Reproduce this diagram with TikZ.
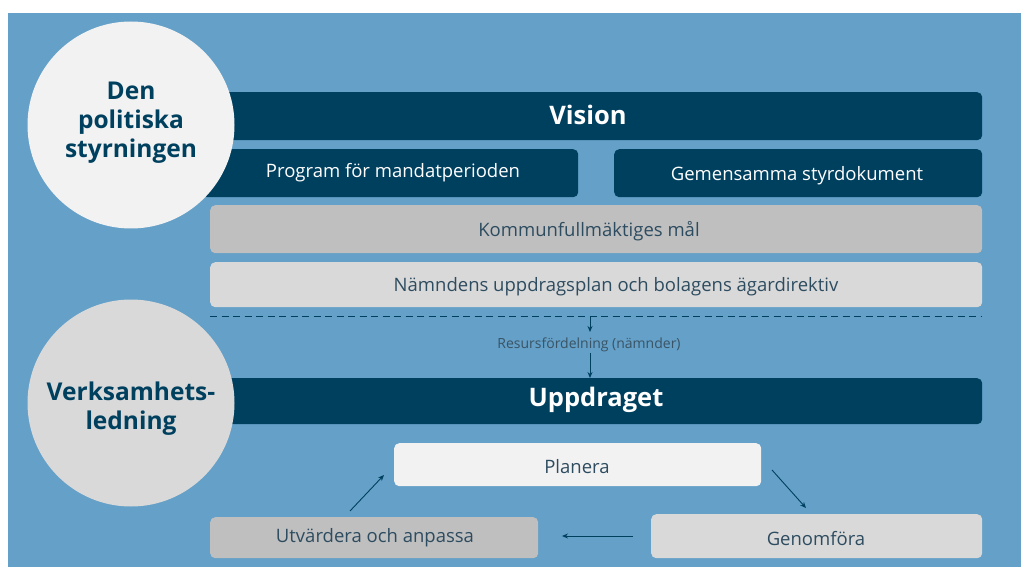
\documentclass[tikz,border=0pt]{standalone}
\usepackage{fontspec}
\setmainfont{Open Sans}
\usetikzlibrary{arrows.meta}
\definecolor{bgblue}{HTML}{64A0C8}
\definecolor{navy}{HTML}{00405F}
\definecolor{txt}{HTML}{2E4C60}
\definecolor{grayA}{HTML}{BFBFBF}
\definecolor{grayB}{HTML}{D9D9D9}
\definecolor{grayC}{HTML}{F2F2F2}
\begin{document}
\begin{tikzpicture}[x=1pt,y=-1pt,
  bar/.style={rounded corners=5pt,inner sep=0pt},
  darkbar/.style={bar,fill=navy},
  lbl/.style={text=txt,font=\fontsize{18.5}{22}\selectfont,yshift=-2.5pt},
  wlbl/.style={text=white,font=\fontsize{18.5}{22}\selectfont,yshift=-2.5pt},
  blbl/.style={text=white,font=\bfseries\fontsize{25.5}{30}\selectfont},
  circ/.style={circle,inner sep=0pt,minimum size=207pt},
  ctext/.style={text=navy,font=\bfseries\fontsize{24.5}{29}\selectfont,align=center,yshift=-4pt},
  arr/.style={-{Stealth[length=6pt,width=5pt]},draw=navy,line width=0.9pt}]
\useasboundingbox (0,0) rectangle (1021,567);
\fill[white] (0,0) rectangle (1021,567);
\fill[bgblue] (8,13) rectangle (1021,567);
% top bars
\node[darkbar,minimum width=782pt,minimum height=48pt,anchor=north west] (vision) at (200,92) {};
\node[blbl] (visiont) at (588,115) {Vision};
\node[darkbar,minimum width=376pt,minimum height=48pt,anchor=north west] (prog) at (202,149) {};
\node[wlbl] (progt) at (393,170) {Program för mandatperioden};
\node[darkbar,minimum width=368pt,minimum height=48pt,anchor=north west] (gem) at (614,149) {};
\node[wlbl] (gemt) at (797,173) {Gemensamma styrdokument};
\node[bar,fill=grayA,minimum width=772pt,minimum height=48pt,anchor=north west] (km) at (210,205) {};
\node[lbl] (kmt) at (589,229) {Kommunfullmäktiges mål};
\node[bar,fill=grayB,minimum width=772pt,minimum height=45pt,anchor=north west] (nu) at (210,262) {};
\node[lbl] (nut) at (616,284) {Nämndens uppdragsplan och bolagens ägardirektiv};
% dashed line
\coordinate (dl) at (210,316);
\coordinate (dr) at (982,316);
\draw[navy,line width=0.9pt,dash pattern=on 7pt off 4.5pt] (dl) -- (dr);
\coordinate (a1s) at (590,316);
\node[text=txt!85!gray,font=\fontsize{14}{16}\selectfont,inner sep=1pt] (res) at (589,345) {Resursfördelning (nämnder)};
\draw[arr] (a1s) -- (590,332);
\node[darkbar,minimum width=782pt,minimum height=46pt,anchor=north west] (upp) at (200,378) {};
\node[blbl] (uppt) at (596,400) {Uppdraget};
\draw[arr] (res.south -| a1s) -- (upp.north -| a1s);
% cycle
\node[bar,fill=grayC,minimum width=367pt,minimum height=43pt,anchor=north west] (plan) at (394,443) {};
\node[lbl] (plant) at (577,464) {Planera};
\node[bar,fill=grayB,minimum width=331pt,minimum height=44pt,anchor=north west] (gen) at (651,514) {};
\node[lbl] (gent) at (816,536) {Genomföra};
\node[bar,fill=grayA,minimum width=328pt,minimum height=41pt,anchor=north west] (utv) at (210,517) {};
\node[lbl] (utvt) at (375,535) {Utvärdera och anpassa};
\coordinate (c1s) at (350,511);
\coordinate (c1e) at (384,475);
\coordinate (c2s) at (772,470);
\coordinate (c2e) at (806,508);
\coordinate (c3s) at (633,536);
\coordinate (c3e) at (562,536);
\draw[arr] (c1s) -- (c1e);
\draw[arr] (c2s) -- (c2e);
\draw[arr] (c3s) -- (c3e);
% circles
\node[circ,fill=grayC] (pol) at (131,125) {};
\node[ctext] (polt) at (131,119) {Den\\politiska\\styrningen};
\node[circ,fill=grayB] (verk) at (131,403) {};
\node[ctext] (verkt) at (131,405) {Verksamhets-\\ledning};
\end{tikzpicture}
\end{document}
